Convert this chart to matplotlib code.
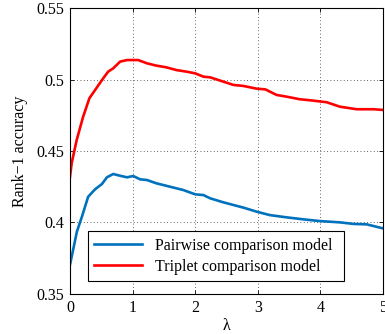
import matplotlib
matplotlib.use("Agg")
import matplotlib.pyplot as plt

lam_pair = [0.0, 0.06, 0.11, 0.19, 0.29, 0.40, 0.51, 0.59, 0.69, 0.80, 0.91, 1.01, 1.12, 1.23, 1.38, 1.60, 1.81, 2.0, 2.13, 2.24, 2.45, 2.77, 2.98, 3.19, 3.46, 3.73, 3.99, 4.31, 4.53, 4.74, 5.0]
acc_pair = [0.3705, 0.383, 0.3936, 0.404, 0.418, 0.4232, 0.4269, 0.4316, 0.4339, 0.4327, 0.4316, 0.4325, 0.4302, 0.4297, 0.4274, 0.425, 0.4227, 0.4197, 0.4192, 0.4169, 0.4141, 0.4104, 0.4076, 0.4052, 0.4036, 0.4022, 0.401, 0.4001, 0.399, 0.3987, 0.3959]

lam_trip = [0.0, 0.027, 0.107, 0.21, 0.31, 0.43, 0.53, 0.61, 0.69, 0.80, 0.91, 1.09, 1.23, 1.38, 1.54, 1.70, 1.86, 2.0, 2.13, 2.24, 2.45, 2.61, 2.77, 2.98, 3.12, 3.30, 3.46, 3.67, 3.89, 4.10, 4.31, 4.58, 4.85, 5.0]
acc_trip = [0.4320, 0.4416, 0.4577, 0.474, 0.4869, 0.4945, 0.5008, 0.5055, 0.5078, 0.5125, 0.5136, 0.5136, 0.5113, 0.5097, 0.5085, 0.5066, 0.5055, 0.5043, 0.502, 0.5015, 0.4985, 0.4962, 0.4955, 0.4936, 0.4931, 0.4892, 0.488, 0.4862, 0.4852, 0.4841, 0.481, 0.4792, 0.4792, 0.4787]

labels = ["Pairwise comparison model", "Triplet comparison model"]
xticks = [0, 1, 2, 3, 4, 5]
yticks = [0.35, 0.4, 0.45, 0.5, 0.55]
ytick_labels = ["0.35", "0.4", "0.45", "0.5", "0.55"]

plt.rcParams['font.family'] = ['Liberation Serif', 'DejaVu Serif']

fig = plt.figure(figsize=(3.85, 3.34), dpi=100)
ax = fig.add_axes([70/385, 40/334, 313/385, 286/334])
ax.plot(lam_pair, acc_pair, color='#0072BD', lw=1.9, label=labels[0])
ax.plot(lam_trip, acc_trip, color='#FF0000', lw=1.9, label=labels[1])
ax.set_xlim(0, 5)
ax.set_ylim(0.35, 0.55)
ax.set_xticks(xticks)
ax.set_xticklabels([str(t) for t in xticks])
ax.set_yticks(yticks)
ax.set_yticklabels(ytick_labels)
ax.tick_params(direction='in', length=3, labelsize=11.5, width=0.6, top=True, right=True, labeltop=False, labelright=False, pad=4)
ax.grid(True, linestyle=(0, (1, 3)), color='black', linewidth=0.6, alpha=0.8)
for s in ax.spines.values():
    s.set_linewidth(0.8)
ax.set_xlabel('λ', fontsize=11.5, labelpad=2)
ax.set_ylabel('Rank−1 accuracy', fontsize=11.5, labelpad=6)
leg = ax.legend(loc='lower left', bbox_to_anchor=(18/313, 13/286, 256/313, 50/286), mode='expand',
                fontsize=11.5, frameon=True, fancybox=False, edgecolor='black', borderaxespad=0,
                handlelength=3.0, borderpad=0.4, labelspacing=0.3)
leg.get_frame().set_linewidth(0.8)
leg.get_frame().set_alpha(1)
fig.savefig('out.png', dpi=100)
